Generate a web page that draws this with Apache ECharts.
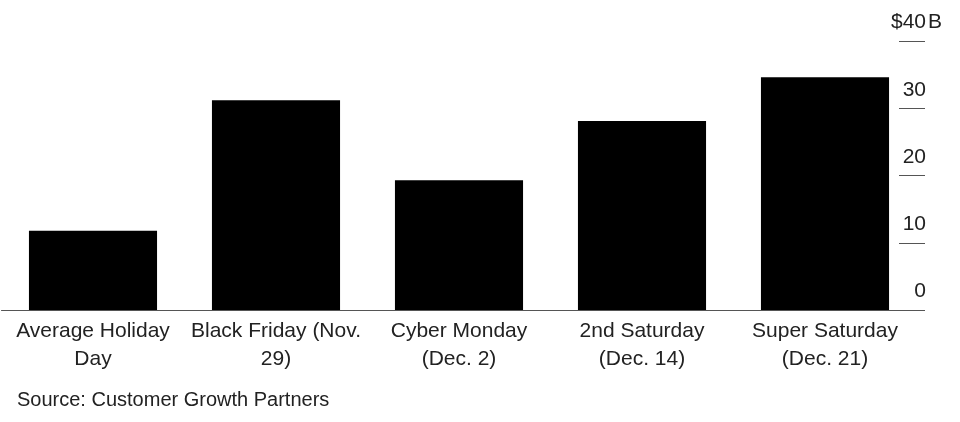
<!DOCTYPE html>
<html>
<head>
<meta charset="utf-8">
<script src="https://cdn.jsdelivr.net/npm/echarts@6/dist/echarts.min.js"></script>
<style>
  html, body { margin: 0; padding: 0; background: #fff; }
  #chart { width: 960px; height: 422px; }
</style>
</head>
<body>
<div id="chart"></div>
<script>
const categories = [
  "Average Holiday\nDay",
  "Black Friday (Nov.\n29)",
  "Cyber Monday\n(Dec. 2)",
  "2nd Saturday\n(Dec. 14)",
  "Super Saturday\n(Dec. 21)"
];
const salesBillions = [11.8, 31.2, 19.3, 28.1, 34.6];
const yTicks = [0, 10, 20, 30, 40];
const sourceText = "Source: Customer Growth Partners";

const FONT = "'Liberation Sans', Arial, Helvetica, sans-serif";
const chart = echarts.init(document.getElementById('chart'), null, { renderer: 'canvas' });

chart.setOption({
  animation: false,
  backgroundColor: '#ffffff',
  title: {
    text: sourceText,
    left: 12,
    top: 385,
    textStyle: { fontFamily: FONT, fontSize: 20, fontWeight: 'normal', color: '#222' }
  },
  grid: { left: 1.5, right: 43.5, top: 41, bottom: 112, containLabel: false },
  xAxis: {
    type: 'category',
    data: categories,
    axisLine: { show: true, lineStyle: { color: '#555', width: 1 } },
    axisTick: { show: false },
    axisLabel: {
      interval: 0,
      margin: 7,
      fontFamily: FONT,
      fontSize: 21,
      lineHeight: 28,
      color: '#222'
    }
  },
  yAxis: {
    type: 'value',
    position: 'right',
    offset: 8.5,
    min: yTicks[0],
    max: yTicks[yTicks.length - 1],
    interval: yTicks[1] - yTicks[0],
    splitLine: { show: false },
    axisLine: { show: false },
    axisTick: { show: true, inside: true, length: 26, lineStyle: { color: '#555', width: 1 } },
    axisLabel: {
      margin: 19,
      align: 'right',
      verticalAlign: 'bottom',
      padding: [0, 0, 8, 0],
      formatter: function (v) {
        if (v === yTicks[yTicks.length - 1]) return '{v|$' + v + '}{u|B}';
        return '{v|' + v + '}{p| }';
      },
      rich: {
        v: { fontFamily: FONT, fontSize: 21, color: '#222', lineHeight: 21 },
        u: { fontFamily: FONT, fontSize: 21, color: '#222', lineHeight: 21, width: 18, align: 'left' },
        p: { fontFamily: FONT, fontSize: 21, color: '#222', lineHeight: 21, width: 18 }
      }
    }
  },
  series: [{
    type: 'bar',
    data: salesBillions,
    barCategoryGap: '30%',
    itemStyle: { color: '#000000' }
  }]
});
</script>
</body>
</html>
